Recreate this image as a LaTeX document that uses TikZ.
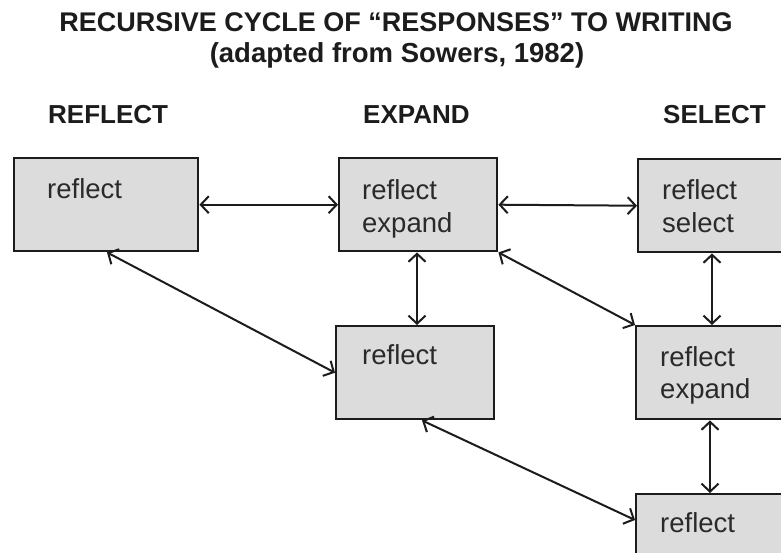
\documentclass[tikz,border=0pt]{standalone}
\usepackage{fontspec}
\setmainfont{Liberation Sans}
\usetikzlibrary{arrows.meta,calc}
\definecolor{boxfill}{HTML}{DCDCDC}
\definecolor{ink}{HTML}{1C1C1C}
\definecolor{boxink}{HTML}{2A2A2A}
\tikzset{
  stagebox/.style={draw=ink, line width=2.4pt, fill=boxfill, rectangle, inner sep=0pt,
    minimum width=#1, minimum height=93pt, anchor=north west},
  stagebox/.default=158pt,
  boxtext/.style={anchor=base west, inner sep=0pt, text=boxink, font=\fontsize{27.5}{33}\selectfont, align=left},
  heading/.style={anchor=base west, inner sep=0pt, text=ink, font=\bfseries\fontsize{26}{30}\selectfont},
  link/.style={draw=ink, line width=2pt, {Straight Barb[length=8pt,width=17pt]}-{Straight Barb[length=8pt,width=17pt]}},
}
\begin{document}
\begin{tikzpicture}[x=1pt,y=-1pt]
\useasboundingbox (0,0) rectangle (781,552);
\fill[white] (0,0) rectangle (781,552);
\clip (0,0) rectangle (781,552);
% titles
\node[anchor=base, inner sep=0pt, text=ink, font=\bfseries\fontsize{27}{30}\selectfont] (title) at (396,31) {RECURSIVE CYCLE OF “RESPONSES” TO WRITING};
\node[anchor=base, inner sep=0pt, text=ink, font=\bfseries\fontsize{27.5}{30}\selectfont] (subtitle) at (397,62) {(adapted from Sowers, 1982)};
% column headings
\node[heading] (hreflect) at (48,123) {REFLECT};
\node[heading] (hexpand) at (363,123) {EXPAND};
\node[heading] (hselect) at (663,123) {SELECT};
% boxes
\node[stagebox=184pt] (boxA) at (13,157) {};
\node[stagebox] (boxB) at (338,157) {};
\node[stagebox] (boxC) at (637,158) {};
\node[stagebox] (boxD) at (335,325) {};
\node[stagebox] (boxE) at (635,325) {};
\node[stagebox] (boxF) at (635,493) {};
% box texts
\node[boxtext] (tA) at (47,198) {reflect};
\node[boxtext] (tB1) at (362,199) {reflect};
\node[boxtext] (tB2) at (362,232) {expand};
\node[boxtext] (tC1) at (662,199) {reflect};
\node[boxtext] (tC2) at (662,232) {select};
\node[boxtext] (tD) at (362,364) {reflect};
\node[boxtext] (tE1) at (660,366) {reflect};
\node[boxtext] (tE2) at (660,398) {expand};
\node[boxtext] (tF) at (660,532) {reflect};
% connectors
\draw[link] (boxA.east) -- (boxB.west);
\draw[link] (boxB.east) -- (boxC.west);
\draw[link] ([xshift=94pt]boxA.south west) -- (boxD.west);
\draw[link] ([xshift=79pt]boxB.south west) -- ([xshift=79pt]boxB.south west |- boxD.north);
\draw[link] (boxB.south east) -- (boxE.north west);
\draw[link] ([xshift=75pt]boxC.south west) -- ([xshift=75pt]boxC.south west |- boxE.north);
\draw[link] ([xshift=87pt]boxD.south west) -- ([yshift=-27pt]boxF.north west);
\draw[link] ([xshift=75pt]boxE.south west) -- ([xshift=75pt]boxE.south west |- boxF.north);
\end{tikzpicture}
\end{document}
